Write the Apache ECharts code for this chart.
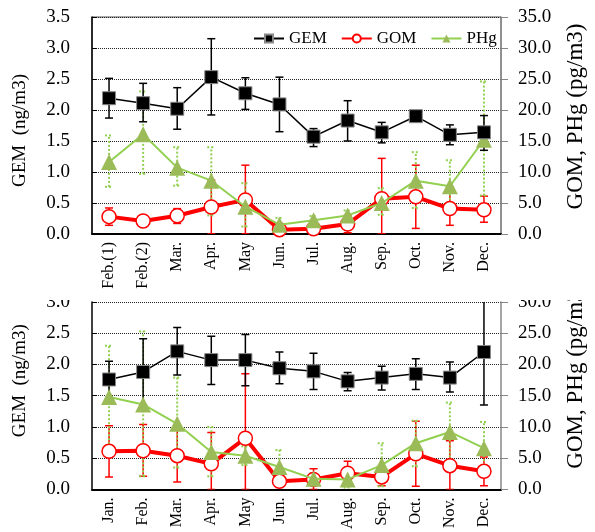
<!DOCTYPE html>
<html>
<head>
<meta charset="utf-8">
<script src="https://cdn.jsdelivr.net/npm/echarts@6/dist/echarts.min.js"></script>
<style>
html,body{margin:0;padding:0;background:#fff;}
#chart{width:595px;height:532px;}
</style>
</head>
<body>
<div id="chart"></div>
<script>
// ---- Data (top panel) ----
var cats1 = ['Feb.(1)','Feb.(2)','Mar.','Apr.','May','Jun.','Jul.','Aug.','Sep.','Oct.','Nov.','Dec.'];
var gem1   = [2.19, 2.11, 2.02, 2.53, 2.27, 2.09, 1.57, 1.83, 1.64, 1.90, 1.60, 1.64];
var gem1Lo = [1.87, 1.81, 1.69, 1.92, 2.01, 1.65, 1.41, 1.50, 1.47, 1.85, 1.44, 1.35];
var gem1Hi = [2.51, 2.43, 2.36, 3.15, 2.52, 2.53, 1.70, 2.15, 1.80, 1.95, 1.76, 1.91];
var gom1   = [2.8, 2.1, 2.95, 4.35, 5.5, 0.7, 0.85, 1.6, 5.7, 6.0, 4.1, 3.9];
var gom1Lo = [1.4, 1.5, 1.7, 0.0, 0.0, 0.4, 0.5, 0.2, 0.0, 0.9, 1.4, 1.9];
var gom1Hi = [4.2, 2.7, 4.1, 8.7, 11.1, 1.0, 1.2, 3.0, 12.2, 11.1, 6.8, 6.1];
var phg1   = [11.6, 16.1, 10.7, 8.6, 4.4, 1.5, 2.2, 3.0, 5.0, 8.6, 7.7, 15.2];
var phg1Lo = [7.6, 9.7, 7.8, 3.0, 1.2, 0.5, 1.5, 2.2, 3.1, 4.2, 3.6, 6.2];
var phg1Hi = [15.9, 23.0, 14.0, 14.0, 8.2, 2.6, 2.9, 3.8, 7.4, 13.2, 11.9, 24.6];

// ---- Data (bottom panel) ----
var cats2 = ['Jan.','Feb.','Mar.','Apr.','May','Jun.','Jul.','Aug.','Sep.','Oct.','Nov.','Dec.'];
var gem2   = [1.76, 1.88, 2.21, 2.07, 2.07, 1.94, 1.89, 1.73, 1.79, 1.85, 1.79, 2.20];
var gem2Lo = [1.47, 1.35, 1.83, 1.68, 1.66, 1.69, 1.60, 1.58, 1.59, 1.60, 1.56, 1.35];
var gem2Hi = [2.05, 2.41, 2.59, 2.45, 2.48, 2.20, 2.18, 1.87, 1.97, 2.09, 2.04, 3.05];
var gom2   = [6.1, 6.2, 5.4, 4.1, 8.2, 1.3, 1.6, 2.6, 2.0, 5.7, 3.8, 2.9];
var gom2Lo = [2.0, 2.1, 1.2, 0.0, 0.0, 0.5, 0.0, 0.7, 0.6, 0.5, 0.0, 0.6];
var gom2Hi = [10.2, 10.4, 9.5, 9.1, 18.5, 1.9, 3.3, 4.5, 3.2, 10.9, 7.8, 5.2];
var phg2   = [14.8, 13.6, 10.5, 6.0, 5.4, 3.6, 1.7, 1.6, 3.9, 7.4, 9.2, 6.6];
var phg2Lo = [6.6, 2.1, 3.5, 2.1, 3.9, 0.9, 1.0, 0.3, 0.5, 3.7, 4.5, 2.6];
var phg2Hi = [23.0, 25.3, 17.9, 10.0, 6.9, 6.3, 2.6, 3.2, 7.4, 11.0, 13.9, 10.8];

var FONT = 'Liberation Serif';
var GREEN_LINE = '#92D050';
var GREEN_FILL = '#9BBB59';

function errSeries(xi, yi, lo, hi, color, dashed, z) {
  return {
    type: 'custom', xAxisIndex: xi, yAxisIndex: yi, z: z, silent: true, clip: true,
    data: lo.map(function (l, i) { return [i, l, hi[i]]; }),
    encode: { x: 0, y: [1, 2] },
    renderItem: function (params, api) {
      var x = api.value(0);
      var p1 = api.coord([x, api.value(1)]);
      var p2 = api.coord([x, api.value(2)]);
      var hw = 4;
      var st = { stroke: color, lineWidth: dashed ? 2 : 1.5 };
      if (dashed) { st.lineDash = [2, 2]; }
      return {
        type: 'group',
        children: [
          { type: 'line', shape: { x1: p1[0], y1: p1[1], x2: p2[0], y2: p2[1] }, style: st },
          { type: 'line', shape: { x1: p1[0] - hw, y1: p1[1], x2: p1[0] + hw, y2: p1[1] }, style: st },
          { type: 'line', shape: { x1: p2[0] - hw, y1: p2[1], x2: p2[0] + hw, y2: p2[1] }, style: st }
        ]
      };
    }
  };
}

function gemSeries(xi, yi, data) {
  return { name: 'GEM', type: 'line', xAxisIndex: xi, yAxisIndex: yi, data: data, z: 5,
    symbol: 'rect', symbolSize: 13,
    lineStyle: { color: '#000', width: 1.5 },
    itemStyle: { color: '#000', borderColor: '#888', borderWidth: 1 } };
}
function gomSeries(xi, yi, data) {
  return { name: 'GOM', type: 'line', xAxisIndex: xi, yAxisIndex: yi, data: data, z: 3,
    symbol: 'circle', symbolSize: 14, showAllSymbol: true,
    lineStyle: { color: '#FF0000', width: 4 },
    itemStyle: { color: '#fff', borderColor: '#FF0000', borderWidth: 1.5 } };
}
function phgSeries(xi, yi, data) {
  return { name: 'PHg', type: 'line', xAxisIndex: xi, yAxisIndex: yi, data: data, z: 4,
    symbol: 'triangle', symbolSize: 16,
    lineStyle: { color: GREEN_LINE, width: 2 },
    itemStyle: { color: GREEN_FILL, borderColor: GREEN_FILL, borderWidth: 0 } };
}

function xAxis(gi, cats) {
  return {
    type: 'category', gridIndex: gi, data: cats, boundaryGap: true,
    axisLine: { lineStyle: { color: '#000', width: 2 } },
    axisTick: { inside: true, length: 5, lineStyle: { color: '#000', width: 1 } },
    axisLabel: { rotate: 90, margin: 8, fontSize: 16, fontFamily: FONT, color: '#000' }
  };
}
function leftAxis(gi, max, name, pad) {
  return {
    type: 'value', gridIndex: gi, min: 0, max: max, interval: 0.5, position: 'left',
    name: name, nameLocation: 'middle', nameGap: 62,
    nameTextStyle: { fontSize: 19, fontFamily: FONT, color: '#000', padding: pad },
    axisLine: { show: true, lineStyle: { color: '#000', width: 1.5 } },
    axisTick: { show: true, inside: true, length: 5, lineStyle: { color: '#000' } },
    axisLabel: { fontSize: 19, fontFamily: FONT, color: '#000', margin: 22,
      formatter: function (v) { return v.toFixed(1); } },
    splitLine: { show: true, lineStyle: { color: '#222', type: 'dotted', width: 1 } }
  };
}
function rightAxis(gi, max, name, pad) {
  return {
    type: 'value', gridIndex: gi, min: 0, max: max, interval: 5, position: 'right',
    name: name, nameLocation: 'middle', nameGap: 63,
    nameTextStyle: { fontSize: 23, fontFamily: FONT, color: '#000', padding: pad },
    axisLine: { show: true, lineStyle: { color: '#888', width: 1.5 } },
    axisTick: { show: true, inside: false, length: 7, lineStyle: { color: '#888' } },
    axisLabel: { fontSize: 19, fontFamily: FONT, color: '#000', margin: 17,
      formatter: function (v) { return v.toFixed(1); } },
    splitLine: { show: false }
  };
}

var option = {
  backgroundColor: '#fff',
  animation: false,
  grid: [
    { left: 92, right: 87, top: 17, height: 217, show: true, borderColor: '#555', borderWidth: 1, backgroundColor: 'transparent' },
    { left: 92, right: 87, top: 302, height: 191 }
  ],
  legend: {
    data: ['GEM', 'GOM', 'PHg'], left: 248, top: 25, itemWidth: 30, itemHeight: 10, itemGap: 14,
    textStyle: { fontSize: 17, fontFamily: FONT, color: '#000' }
  },
  xAxis: [xAxis(0, cats1), xAxis(1, cats2)],
  yAxis: [
    leftAxis(0, 3.5, 'GEM  (ng/m3)', [0, 10, 0, 0]),
    rightAxis(0, 35, 'GOM, PHg (pg/m3)', [0, 0, 0, 18]),
    leftAxis(1, 3.0, 'GEM  (ng/m3)', [0, 0, 0, 30]),
    rightAxis(1, 30, 'GOM, PHg (pg/m3)', [0, 0, 0, 40])
  ],
  graphic: [
    { type: 'rect', z: 100, shape: { x: 0, y: 250, width: 90, height: 50 }, style: { fill: '#fff' } },
    { type: 'rect', z: 100, shape: { x: 510, y: 250, width: 85, height: 50 }, style: { fill: '#fff' } }
  ],
  series: [
    errSeries(0, 1, gom1Lo, gom1Hi, '#FF0000', false, 1),
    errSeries(0, 1, phg1Lo, phg1Hi, GREEN_LINE, true, 2),
    errSeries(0, 0, gem1Lo, gem1Hi, '#000', false, 2),
    gomSeries(0, 1, gom1),
    phgSeries(0, 1, phg1),
    gemSeries(0, 0, gem1),
    errSeries(1, 3, gom2Lo, gom2Hi, '#FF0000', false, 1),
    errSeries(1, 3, phg2Lo, phg2Hi, GREEN_LINE, true, 2),
    errSeries(1, 2, gem2Lo, gem2Hi, '#000', false, 2),
    gomSeries(1, 3, gom2),
    phgSeries(1, 3, phg2),
    gemSeries(1, 2, gem2)
  ]
};

var chart = echarts.init(document.getElementById('chart'), null, { renderer: 'canvas' });
chart.setOption(option);
</script>
</body>
</html>
